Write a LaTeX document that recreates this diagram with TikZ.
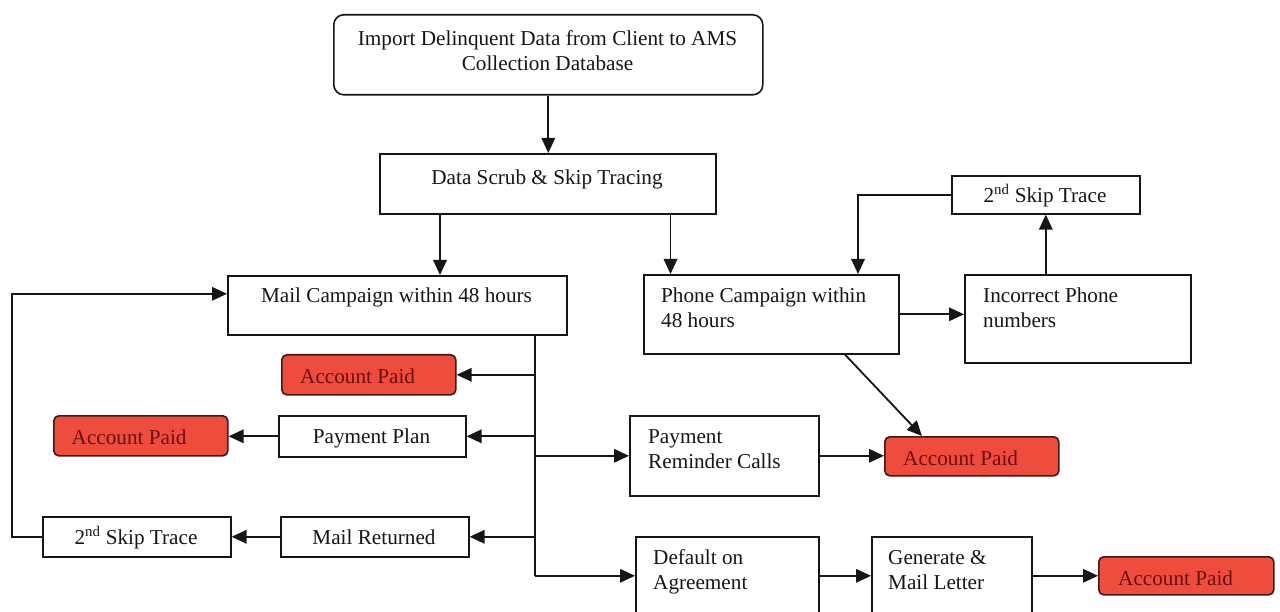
\documentclass[tikz,border=0pt]{standalone}
\usepackage{fontspec}
\setmainfont{Liberation Serif}
\usetikzlibrary{arrows.meta}

\definecolor{ink}{RGB}{22,22,22}
\definecolor{paidfill}{RGB}{238,76,60}
\definecolor{paidtext}{RGB}{105,16,16}
\definecolor{paidline}{RGB}{60,26,26}

\tikzset{
  box/.style={draw=ink, line width=1.6pt, fill=white, inner sep=0pt, anchor=north west},
  startbox/.style={box, rounded corners=10pt},
  paidbox/.style={box, draw=paidline, fill=paidfill, rounded corners=5pt},
  txt/.style={text=ink, inner sep=0pt, font=\fontsize{21.2}{25}\selectfont},
  paidtxt/.style={txt, text=paidtext},
  conn/.style={draw=ink, line width=1.8pt},
  arr/.style={conn, -{Triangle[length=15pt,width=13.5pt]}},
}

\begin{document}
\begin{tikzpicture}[x=1pt, y=-1pt]
\fill[white] (0,0) rectangle (1280,612);
\clip (0,0) rectangle (1280,612);
\useasboundingbox (0,0) rectangle (1280,612);

% ---- boxes ----
\node[startbox, minimum width=429pt, minimum height=80pt] (imp) at (333,14) {};
\node[box, minimum width=336pt, minimum height=60pt] (scrub) at (379,153) {};
\node[box, minimum width=339pt, minimum height=59pt] (mail) at (227,275) {};
\node[box, minimum width=255pt, minimum height=79pt] (phone) at (643,274) {};
\node[box, minimum width=226pt, minimum height=88pt] (incorr) at (964,274) {};
\node[box, minimum width=188pt, minimum height=38pt] (skipR) at (951,175) {};
\node[paidbox, minimum width=174pt, minimum height=40pt] (paidA) at (281,354) {};
\node[box, minimum width=187pt, minimum height=41pt] (plan) at (278,415) {};
\node[paidbox, minimum width=174pt, minimum height=40pt] (paidB) at (53,415) {};
\node[box, minimum width=189pt, minimum height=80pt] (remind) at (629,415) {};
\node[paidbox, minimum width=174pt, minimum height=39pt] (paidC) at (884,436) {};
\node[box, minimum width=188pt, minimum height=40pt] (mret) at (280,516) {};
\node[box, minimum width=188pt, minimum height=40pt] (skipL) at (42,516) {};
\node[box, minimum width=183pt, minimum height=78pt] (dflt) at (635,536) {};
\node[box, minimum width=160pt, minimum height=78pt] (gen) at (871,536) {};
\node[paidbox, minimum width=175pt, minimum height=38pt] (paidD) at (1098,556) {};

% ---- texts ----
\node[txt, anchor=base] (imp-a) at (547.5,46) {Import Delinquent Data from Client to AMS};
\node[txt, anchor=base] (imp-b) at (547.5,71) {Collection Database};
\node[txt, anchor=base] (scrub-a) at (547,185) {Data Scrub \& Skip Tracing};
\node[txt, anchor=base] (mail-a) at (396.5,302.5) {Mail Campaign within 48 hours};
\node[txt, anchor=base west] (phone-a) at (661,302.5) {Phone Campaign within};
\node[txt, anchor=base west] (phone-b) at (661,327.5) {48 hours};
\node[txt, anchor=base west] (incorr-a) at (983,302.5) {Incorrect Phone};
\node[txt, anchor=base west] (incorr-b) at (983,327.5) {numbers};
\node[txt, anchor=base] (skipR-a) at (1045,202.5) {2\textsuperscript{nd} Skip Trace};
\node[paidtxt, anchor=base west] (paidA-a) at (300,383) {Account Paid};
\node[txt, anchor=base] (plan-a) at (371.5,443) {Payment Plan};
\node[paidtxt, anchor=base west] (paidB-a) at (71.5,444) {Account Paid};
\node[txt, anchor=base west] (remind-a) at (648,443) {Payment};
\node[txt, anchor=base west] (remind-b) at (648,468) {Reminder Calls};
\node[paidtxt, anchor=base west] (paidC-a) at (903,465) {Account Paid};
\node[txt, anchor=base] (mret-a) at (374,544) {Mail Returned};
\node[txt, anchor=base] (skipL-a) at (136,544) {2\textsuperscript{nd} Skip Trace};
\node[txt, anchor=base west] (dflt-a) at (653,564) {Default on};
\node[txt, anchor=base west] (dflt-b) at (653,589) {Agreement};
\node[txt, anchor=base west] (gen-a) at (888,564) {Generate \&};
\node[txt, anchor=base west] (gen-b) at (888,589) {Mail Letter};
\node[paidtxt, anchor=base west] (paidD-a) at (1118,585) {Account Paid};

% ---- connectors ----
\draw[arr] (imp.south) -- (imp.south |- scrub.north);
\draw[arr] ([xshift=61pt]scrub.south west) -- ([xshift=61pt]scrub.south west |- mail.north);
\draw[arr] ([xshift=27.5pt]phone.north west |- scrub.south) -- ([xshift=27.5pt]phone.north west);

% phone side
\draw[arr] (phone.east) -- (phone.east -| incorr.west);
\draw[arr] (skipR.south |- incorr.north) -- (skipR.south);
\draw[arr] (skipR.west) -| ([xshift=215pt]phone.north west);
\draw[arr] ([xshift=202pt]phone.south west) -- ([xshift=38pt]paidC.north west);

% mail trunk and its branches
\coordinate (tr) at ([xshift=308pt]mail.south west);
\coordinate (trEnd) at (tr |- dflt.west);
\draw[conn] (tr) -- (trEnd);
\draw[arr] (tr |- paidA.east) -- (paidA.east);
\draw[arr] (tr |- plan.east) -- (plan.east);
\draw[arr] (tr |- remind.west) -- (remind.west);
\draw[arr] (tr |- mret.east) -- (mret.east);
\draw[arr] (trEnd) -- (dflt.west);

\draw[arr] (plan.west) -- (plan.west -| paidB.east);
\draw[arr] (mret.west) -- (skipL.east);
\coordinate (loopx) at (12,0);
\draw[arr] (skipL.west) -- (skipL.west -| loopx) |- ([yshift=11.5pt]mail.west);

\draw[arr] (remind.east) -- (remind.east -| paidC.west);
\draw[arr] (dflt.east) -- (gen.west);
\draw[arr] (gen.east) -- (gen.east -| paidD.west);
\end{tikzpicture}
\end{document}
